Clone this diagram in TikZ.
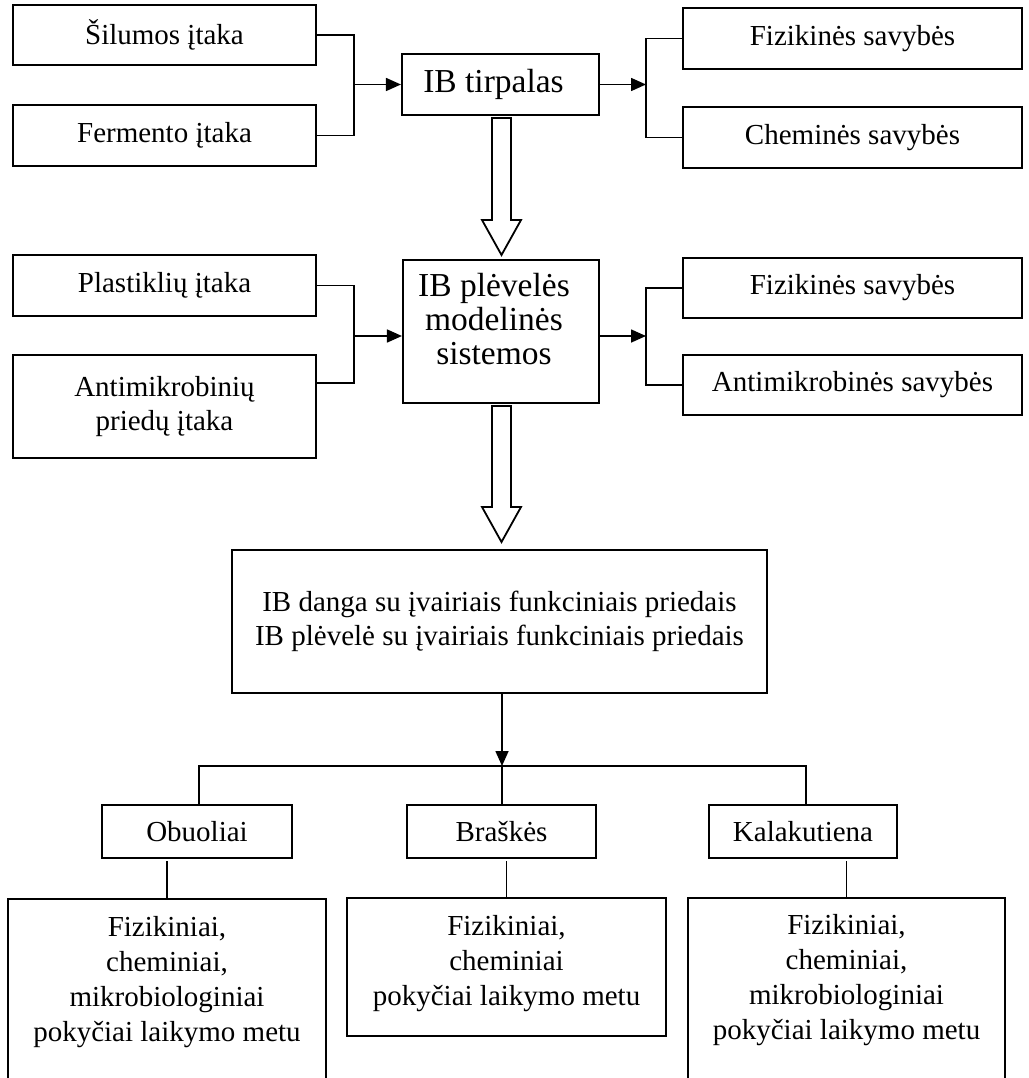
\documentclass[tikz,border=0pt]{standalone}
\usepackage{fontspec}
\setmainfont{Liberation Serif}
\usetikzlibrary{arrows.meta}
\begin{document}
\begin{tikzpicture}[x=1pt,y=-1pt,
  box/.style={draw, line width=2.1pt, inner sep=0pt, align=center, font=\fontsize{29}{34}\selectfont},
  bigfont/.style={font=\fontsize{33.5}{34}\selectfont},
  conn/.style={line width=1.6pt},
  arr/.style={conn, -{Triangle[length=15pt,width=13pt]}},
  hollow/.style={draw, line width=1.8pt, fill=white, line join=miter}]
\useasboundingbox (0,0) rectangle (1028,1078);
\clip (0,0) rectangle (1028,1078);
% row 1
\node[box, minimum width=303pt, minimum height=60pt] (sil) at (164.5,35) {Šilumos įtaka};
\node[box, minimum width=303pt, minimum height=61pt] (fer) at (164.5,135.5) {Fermento įtaka};
\node[box, bigfont, minimum width=197pt, minimum height=61pt] (tirp) at (500.5,84.5) {IB tirpalas\kern14pt};
\node[box, minimum width=339pt, minimum height=61pt] (fiz1) at (852.5,38.5) {Fizikinės savybės};
\node[box, minimum width=339pt, minimum height=61pt] (chem) at (852.5,137.5) {Cheminės savybės};
% row 2
\node[box, minimum width=303pt, minimum height=61pt] (plast) at (164.5,285.5) {Plastiklių įtaka};
\node[box, minimum width=303pt, minimum height=103pt] (anti) at (164.5,406.5) {Antimikrobinių\\priedų įtaka};
\node[box, bigfont] (plev) at (501,331.5) {\parbox[c][143pt][t]{196pt}{\centering\rightskip=14pt plus 1fil\relax\vspace*{13pt}IB plėvelės\\ modelinės\\ sistemos}};
\node[box, minimum width=339pt, minimum height=60pt] (fiz2) at (852.5,288) {Fizikinės savybės};
\node[box, minimum width=339pt, minimum height=60pt] (antis) at (852.5,385) {Antimikrobinės savybės};
% big box
\node[box, minimum width=535pt, minimum height=143pt] (big) at (499.5,621.5) {IB danga su įvairiais funkciniais priedais\\IB plėvelė su įvairiais funkciniais priedais};
% products
\node[box, minimum width=190pt, minimum height=53pt] (obu) at (197,831.5) {Obuoliai};
\node[box, minimum width=189pt, minimum height=53pt] (bras) at (501.5,831.5) {Braškės};
\node[box, minimum width=188pt, minimum height=53pt] (kal) at (803,831.5) {Kalakutiena};
% results
\node[box, font=\fontsize{29}{35}\selectfont] (r1) at (167,999.5) {\parbox[c][201pt][t]{318pt}{\centering\vspace*{17pt}Fizikiniai,\\ cheminiai,\\ mikrobiologiniai\\ pokyčiai laikymo metu}};
\node[box, font=\fontsize{29}{35}\selectfont] (r2) at (506.5,967) {\parbox[c][138pt][t]{319pt}{\centering\vspace*{17pt}Fizikiniai,\\ cheminiai\\ pokyčiai laikymo metu}};
\node[box, font=\fontsize{29}{35}\selectfont] (r3) at (846.5,999) {\parbox[c][202pt][t]{317pt}{\centering\vspace*{16pt}Fizikiniai,\\ cheminiai,\\ mikrobiologiniai\\ pokyčiai laikymo metu}};
% row 1 connectors
\coordinate (j1) at (354,84.5);
\coordinate (j2) at (646,84.5);
\draw[conn] (sil.east) -| (j1) |- (fer.east);
\draw[arr] (j1) -- (tirp.west);
\draw[arr] (tirp.east) -- (j2);
\draw[conn] (fiz1.west) -| (j2) |- (chem.west);
% row 2 connectors
\coordinate (j3) at (354,336);
\coordinate (j3b) at (354,383);
\coordinate (j4) at (646,336);
\draw[conn] (plast.east) -| (j3b) -- (j3b -| anti.east);
\draw[arr] (j3) -- (j3 -| plev.west);
\draw[arr] (j4 -| plev.east) -- (j4);
\draw[conn] (fiz2.west) -| (j4) |- (antis.west);
% hollow arrows
\draw[hollow] (492,118) -- (492,220) -- (482,220) -- (501.5,255) -- (521,220) -- (511,220) -- (511,118) -- cycle;
\draw[hollow] (492,406) -- (492,507) -- (482,507) -- (501.5,542) -- (521,507) -- (511,507) -- (511,406) -- cycle;
% distribution
\coordinate (t) at (502,766);
\draw[arr] (big.south -| t) -- (t);
\draw[conn] (obu.north -| 199,0) -- (199,766) -- (806,766) -- (kal.north -| 806,0);
\draw[conn] (t) -- (bras.north -| t);
% results connectors
\draw[conn] (r1.north) -- ++(0,-37);
\draw[conn] (r2.north) -- ++(0,-36);
\draw[conn] (r3.north) -- ++(0,-36);
\end{tikzpicture}
\end{document}
